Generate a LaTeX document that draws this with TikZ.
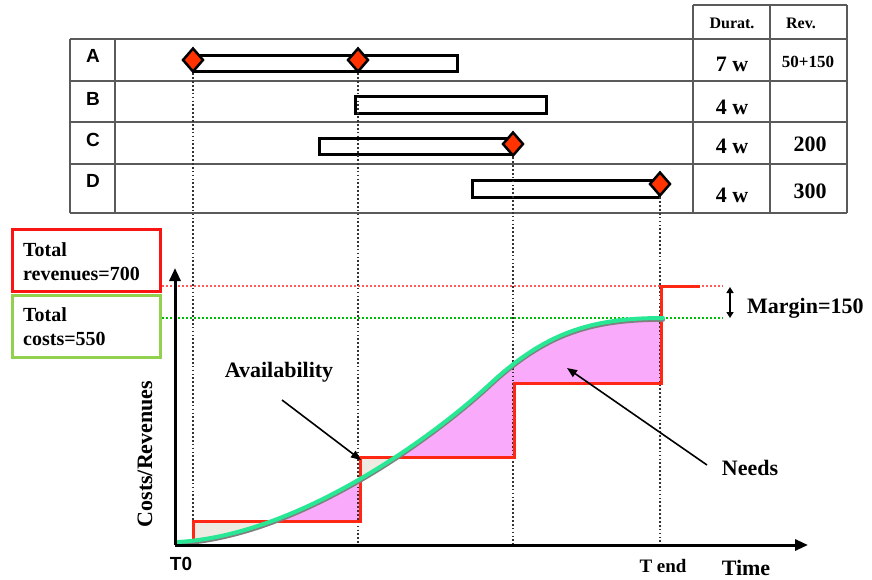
\documentclass[tikz,border=0pt]{standalone}
\usepackage{fontspec}
\setmainfont{Liberation Serif}
\newfontfamily\arialf{Liberation Sans}
\usetikzlibrary{shapes.geometric,arrows.meta}
\newcommand{\fsz}[1]{\fontsize{#1}{#1}\selectfont}
\definecolor{stepred}{RGB}{255,40,20}
\definecolor{boxred}{RGB}{250,20,20}
\definecolor{boxgreen}{RGB}{146,208,80}
\definecolor{curvegreen}{RGB}{40,232,150}
\definecolor{pinkfill}{RGB}{250,170,250}
\definecolor{beigefill}{RGB}{238,236,226}
\definecolor{tblgray}{RGB}{90,90,90}
\definecolor{msred}{RGB}{255,50,0}
\tikzset{
  tbl/.style={draw=tblgray,line width=1.3},
  bar/.style={draw=black,line width=3,fill=white},
  ms/.style={diamond,draw=black,line width=2.5,fill=msred,minimum width=21,minimum height=24,inner sep=0},
  vdots/.style={draw=black!80,line width=1.7,dash pattern=on 1.7pt off 2.2pt},
  rdots/.style={draw=red!65,line width=1.6,dash pattern=on 1.6pt off 2.4pt},
  gdots/.style={draw=green!75!black,line width=1.6,dash pattern=on 1.6pt off 2.4pt},
  steps/.style={draw=stepred,line width=3,line join=miter},
  txt/.style={inner sep=0,anchor=base,font=\bfseries\fsz{22}},
  hdr/.style={inner sep=0,anchor=base,font=\bfseries\fsz{16}},
  rowl/.style={inner sep=0,anchor=base,font=\arialf\bfseries\fsz{19}},
  boxtxt/.style={inner sep=0,anchor=base west,font=\bfseries\fsz{20}},
  pointer/.style={draw=black,line width=1.6,-{Triangle[length=10,width=8]}},
  axis/.style={draw=black,line width=3,-{Triangle[length=13,width=11]}}
}
\begin{document}
\begin{tikzpicture}[x=1pt,y=-1pt]
\useasboundingbox (0,0) rectangle (872,580);
% ---------- table ----------
\draw[tbl] (70,39) -- (847,39);
\draw[tbl] (70,81) -- (847,81);
\draw[tbl] (70,122) -- (847,122);
\draw[tbl] (70,164) -- (847,164);
\draw[tbl] (70,213) -- (847,213);
\draw[tbl] (70,39) -- (70,213);
\draw[tbl] (115,39) -- (115,213);
\draw[tbl] (693,5) -- (847,5);
\draw[tbl] (693,5) -- (693,213);
\draw[tbl] (770,5) -- (770,213);
\draw[tbl] (847,5) -- (847,213);
\node[hdr] (hdur) at (732,29) {Durat.};
\node[hdr] (hrev) at (801,29) {Rev.};
\node[rowl] (la) at (93,63) {A};
\node[rowl] (lb) at (93,106) {B};
\node[rowl] (lc) at (93,147) {C};
\node[rowl] (ld) at (93,188) {D};
\node[txt] (da) at (732,72) {7 w};
\node[txt] (db) at (732,115) {4 w};
\node[txt] (dc) at (732,154) {4 w};
\node[txt] (dd) at (732,202) {4 w};
\node[txt,font=\bfseries\fsz{17}] (ra) at (808,68) {50+150};
\node[txt] (rc) at (810,152) {200};
\node[txt] (rd) at (810,198) {300};
% bars
\draw[bar] (193,56) rectangle (457,72);
\draw[bar] (355,97) rectangle (546,114);
\draw[bar] (319,139) rectangle (512,155);
\draw[bar] (472,181) rectangle (659,197);
% ---------- fills ----------
\def\curvepath{(178,542) .. controls (300,535) and (435,435) .. (490,384) .. controls (545,333) and (590,318) .. (663,318)}
\def\steppoly{(193,545) -- (193,521) -- (360,521) -- (360,457) -- (514,457) -- (514,383) -- (661,383) -- (661,545) -- cycle}
\begin{scope}
\clip (170,250) rectangle (661,550);
\fill[pinkfill] (178,545) -- \curvepath -- (663,545) -- cycle;
\end{scope}
\fill[beigefill] \steppoly;
\begin{scope}
\clip \steppoly;
\fill[white] (178,546) -- \curvepath -- (663,546) -- cycle;
\end{scope}
% ---------- axes coordinates ----------
\coordinate (o) at (175,545);
\coordinate (ytop) at (175,268);
\coordinate (xend) at (808,545);
\coordinate (xa) at (193,545);
\coordinate (xb) at (358,545);
\coordinate (xc) at (513,545);
\coordinate (xd) at (660,545);
% milestones
\node[ms] (m1) at (193,60) {};
\node[ms] (m2) at (358,60) {};
\node[ms] (m3) at (513,144) {};
\node[ms] (m4) at (660,184) {};
% dotted verticals
\draw[vdots] (m1.south) -- (xa);
\draw[vdots] (m2.south) -- (xb);
\draw[vdots] (m3.south) -- (xc);
\draw[vdots] (m4.south) -- (xd);
% ---------- left boxes ----------
\draw[draw=boxred,line width=3] (12,229) rectangle (160,291);
\node[boxtxt] (tr1) at (23,256) {Total};
\node[boxtxt] (tr2) at (23,280) {revenues=700};
\draw[draw=boxgreen,line width=3] (12,295) rectangle (160,357);
\node[boxtxt] (tc1) at (23,321) {Total};
\node[boxtxt] (tc2) at (23,345) {costs=550};
\coordinate (redend) at (723,286);
\coordinate (greenend) at (723,318);
\draw[rdots] (162,286) -- (redend);
\draw[gdots] (162,318) -- (greenend);
% ---------- step function ----------
\draw[steps] (193,545) -- (193,521) -- (360,521) -- (360,457) -- (514,457) -- (514,383) -- (661,383) -- (661,286) -- (700,286);
% ---------- curve ----------
\begin{scope}[yshift=-1.8pt]
\draw[black!50,line width=4,line cap=round] \curvepath;
\end{scope}
\draw[curvegreen,line width=4,line cap=round] \curvepath;
% ---------- axes ----------
\draw[axis] (o) -- (ytop);
\draw[axis] (o) -- (xend);
% ---------- labels ----------
\node[txt] (avail) at (279,377) {Availability};
\coordinate (availtip) at (361,460);
\draw[pointer] (282,400) -- (availtip);
\node[txt] (needs) at (750,475) {Needs};
\coordinate (needstip) at (567,368);
\draw[pointer] (707,465) -- (needstip);
\coordinate (mtop) at (730,287);
\coordinate (mbot) at (730,318);
\draw[draw=black,line width=2.2,{Triangle[length=6,width=7]}-{Triangle[length=6,width=7]}] (mtop) -- (mbot);
\node[txt,anchor=base west] (margin) at (747,313) {Margin=150};
\node[txt,rotate=90] (ylab) at (152,454) {Costs/Revenues};
\node[rowl] (t0) at (181,570) {T0};
\node[txt,font=\bfseries\fsz{19}] (tend) at (663,572) {T end};
\node[txt] (time) at (746,575) {Time};
\end{tikzpicture}
\end{document}
